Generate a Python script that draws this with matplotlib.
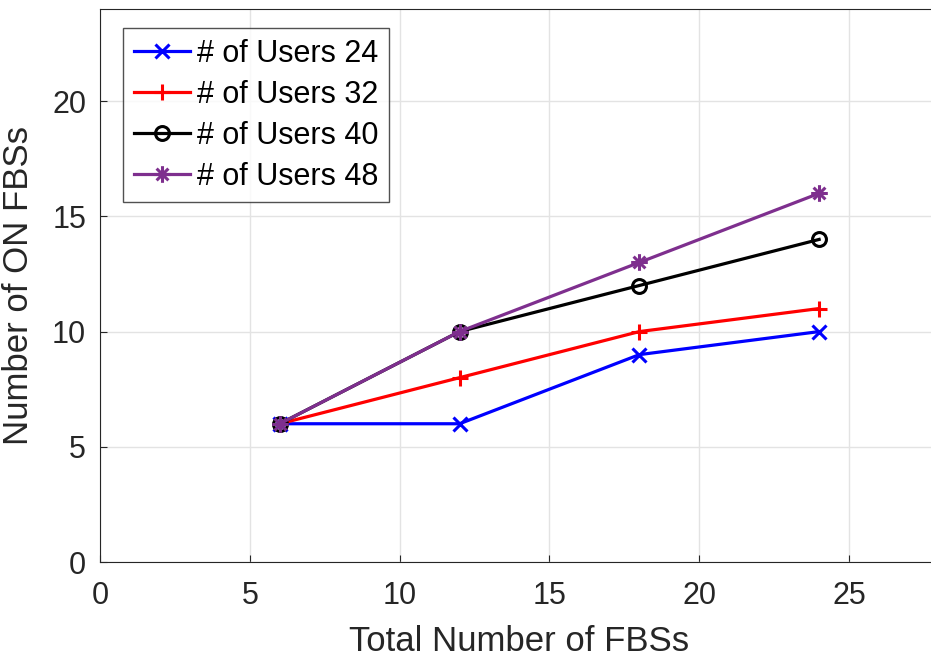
import matplotlib
matplotlib.use('Agg')
from matplotlib import pyplot as plt
from matplotlib.path import Path

total_fbs = [6, 12, 18, 24]
users_24 = [6, 6, 9, 10]
users_32 = [6, 8, 10, 11]
users_40 = [6, 10, 12, 14]
users_48 = [6, 10, 13, 16]

# matlab style asterisk marker (8 spokes)
d = 0.707
asterisk = Path([(0, -1), (0, 1), (-1, 0), (1, 0), (-d, -d), (d, d), (-d, d), (d, -d)],
                [Path.MOVETO, Path.LINETO] * 4)

series = [
    (users_24, '# of Users 24', 'blue', 'x', 10),
    (users_32, '# of Users 32', 'red', '+', 12),
    (users_40, '# of Users 40', 'black', 'o', 10),
    (users_48, '# of Users 48', '#7E2F8E', asterisk, 12),
]

plt.rcParams['font.family'] = ['Liberation Sans', 'DejaVu Sans']

fig = plt.figure(figsize=(9.31, 6.62), dpi=100)
W, H = 931.0, 662.0
axe = fig.add_axes([100 / W, 1 - 562 / H, (939 - 100) / W, (562 - 9) / H])

for vals, label, col, mk, ms in series:
    axe.plot(total_fbs, vals, color=col, marker=mk, lw=2.3, ms=ms,
             mfc='none', mew=2.2, label=label)

axe.set_xlim(0, 28)
axe.set_ylim(0, 24)
axe.set_xticks([0, 5, 10, 15, 20, 25])
axe.set_yticks([0, 5, 10, 15, 20])
axe.grid(True, color='#e3e3e3', lw=1)
axe.set_axisbelow(True)
axe.tick_params(direction='in', length=5, labelsize=22, colors='#262626')
axe.tick_params(axis='x', pad=14)
axe.tick_params(axis='y', pad=10)
for s in axe.spines.values():
    s.set_color('#262626')
axe.set_xlabel('Total Number of FBSs', fontsize=25, color='#262626', labelpad=10)
axe.set_ylabel('Number of ON FBSs', fontsize=25, color='#262626', labelpad=12)

leg = axe.legend(loc='upper left', bbox_to_anchor=(23 / 839, 1 - 19 / 553),
                 fontsize=22, frameon=True, fancybox=False, edgecolor='#262626',
                 handlelength=1.85, handletextpad=0.22, borderpad=0.35,
                 labelspacing=0.36, borderaxespad=0)
leg.get_frame().set_linewidth(1)

plt.savefig('out.png', dpi=100)
